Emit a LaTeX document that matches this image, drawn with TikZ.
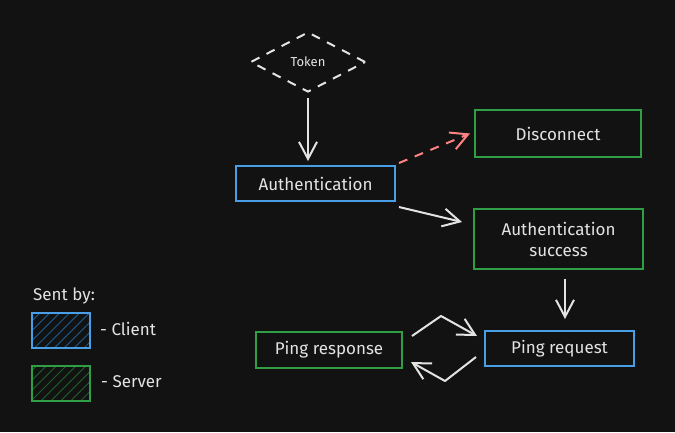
\documentclass[tikz,border=0pt]{standalone}
\usepackage{fontspec}
\setmainfont{Fira Sans}
\usetikzlibrary{shapes.geometric,arrows.meta,patterns.meta}
\definecolor{bg}{HTML}{121212}
\definecolor{fg}{HTML}{E3E3E3}
\definecolor{cblue}{HTML}{4A9EE6}
\definecolor{cgreen}{HTML}{2F9E44}
\definecolor{cred}{HTML}{FF8383}
\definecolor{hblue}{HTML}{1E5585}
\definecolor{hgreen}{HTML}{1D5A2A}
\tikzset{
  box/.style={draw, line width=2pt, text=fg, font=\fontsize{17}{21}\selectfont, align=center, inner sep=0pt},
  client/.style={box, draw=cblue},
  server/.style={box, draw=cgreen},
  tip/.style={-{Straight Barb[length=17pt,width=18pt,line width=2pt]}},
  conn/.style={draw=fg, line width=2pt, line join=round, tip},
  lbl/.style={text=fg, font=\fontsize{17}{21}\selectfont, inner sep=0pt, anchor=west},
}
\begin{document}
\begin{tikzpicture}[x=1pt,y=-1pt]
\fill[bg] (0,0) rectangle (675,432);
\useasboundingbox (0,0) rectangle (675,432);
\node[diamond, draw=fg, dash pattern=on 9pt off 8pt, line width=2pt, text=fg, font=\fontsize{13}{15}\selectfont, minimum width=115pt, minimum height=60pt, aspect=1.9, inner sep=0pt] (token) at (308,62) {Token};
\node[client, minimum width=159pt, minimum height=35pt] (auth) at (315.5,183.5) {Authentication};
\node[server, minimum width=166pt, minimum height=47pt] (disc) at (558,133.5) {Disconnect};
\node[server, minimum width=169pt, minimum height=60pt] (succ) at (558.5,239) {Authentication\\success};
\node[client, minimum width=149pt, minimum height=35pt] (req) at (559.5,348.5) {Ping request};
\node[server, minimum width=146pt, minimum height=36pt] (resp) at (329,350) {Ping response};
\draw[conn, shorten <=5pt, shorten >=4pt] (token.south) -- (token.south |- auth.north);
\draw[conn, draw=cred, dash pattern=on 9pt off 8pt] ([shift={(3,-2)}]auth.north east) -- ([shift={(-4,0)}]disc.west);
\draw[conn] ([shift={(3,5)}]auth.south east) -- ([shift={(-11,-17)}]succ.west);
\draw[conn] ([shift={(6.5,9)}]succ.south) -- ([shift={(5.5,-11)}]req.north);
\coordinate (m1) at (441,316);
\coordinate (m2) at (445,381);
\draw[conn] ([shift={(9,5)}]resp.north east) -- (m1) -- ([shift={(-7,6)}]req.north west);
\draw[conn] ([shift={(-8,-10)}]req.south west) -- (m2) -- ([shift={(8,-7)}]resp.south east);
% legend
\node[lbl] (sent) at (33,296) {Sent by:};
\node[draw=cblue, line width=2pt, pattern={Lines[angle=45,distance=7pt,line width=1pt]}, pattern color=hblue, minimum width=58pt, minimum height=35pt, inner sep=0pt] (lc) at (61,330.5) {};
\node[lbl] (lct) at (100,329) {- Client};
\node[draw=cgreen, line width=2pt, pattern={Lines[angle=45,distance=7pt,line width=1pt]}, pattern color=hgreen, minimum width=58pt, minimum height=35pt, inner sep=0pt] (ls) at (61,383.5) {};
\node[lbl] (lst) at (101,382) {- Server};
\end{tikzpicture}
\end{document}
